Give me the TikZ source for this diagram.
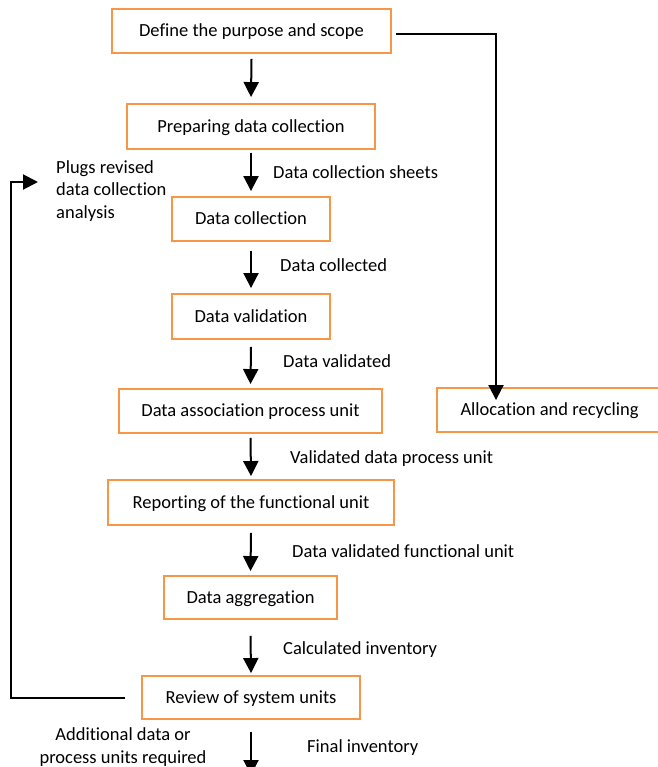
\documentclass[tikz,border=0pt]{standalone}
\usepackage{fontspec}
\setmainfont{Carlito}[Ligatures={NoCommon},RawFeature={-calt;-liga}]
\usetikzlibrary{arrows.meta}
\definecolor{boxorange}{HTML}{F79646}
\begin{document}
\begin{tikzpicture}[x=1pt,y=-1pt,
  font=\fontsize{18.5}{22.5}\selectfont,
  stepbox/.style={draw=boxorange,line width=1.9pt,inner sep=0pt,fill=white,text height=15.5pt,text depth=3.9pt},
  arr/.style={line width=2pt,-{Triangle[length=15pt,width=15pt]}},
  lbl/.style={anchor=west,inner sep=0pt,text height=15pt,text depth=3.9pt}]
\useasboundingbox (0,0) rectangle (657,767);
\node[stepbox,minimum width=279pt,minimum height=44pt] (b1) at (251.5,31) {Define the purpose and scope};
\node[stepbox,minimum width=248pt,minimum height=45pt] (b2) at (251,126.5) {Preparing data collection};
\node[stepbox,minimum width=158pt,minimum height=44pt] (b3) at (251,219) {Data collection};
\node[stepbox,minimum width=158pt,minimum height=45pt] (b4) at (251,316.5) {Data validation};
\node[stepbox,minimum width=263pt,minimum height=44pt] (b5) at (250.5,411) {Data association process unit};
\node[stepbox,minimum width=286pt,minimum height=45pt] (b6) at (251,502.5) {Reporting of the functional unit};
\node[stepbox,minimum width=173pt,minimum height=43pt] (b7) at (250.5,597.5) {Data aggregation};
\node[stepbox,minimum width=218pt,minimum height=43pt] (b8) at (251,697.5) {Review of system units};
\node[stepbox,minimum width=225pt,minimum height=44pt] (alloc) at (549.5,410) {Allocation and recycling};

\node[lbl] (l2) at (273,173) {Data collection sheets};
\node[lbl] (l3) at (280,266) {Data collected};
\node[lbl] (l4) at (283,362) {Data validated};
\node[lbl] (l5) at (290,458) {Validated data process unit};
\node[lbl] (l6) at (292,552) {Data validated functional unit};
\node[lbl] (l7) at (283,649) {Calculated inventory};
\node[lbl] (l8) at (307,747) {Final inventory};
\node[inner sep=0pt,align=left,anchor=west] (plugs) at (56,191) {Plugs revised\\data collection\\analysis};
\node[inner sep=0pt,align=center] (addl) at (123,747) {Additional data or\\process units required};

\draw[arr] ([yshift=-5pt]b1.south) -- ([yshift=6pt]b2.north);
\draw[arr] ([yshift=-3pt]b2.south) -- ([yshift=5pt]b3.north);
\draw[arr] ([yshift=-9pt]b3.south) -- ([yshift=5pt]b4.north);
\draw[arr] ([yshift=-7pt]b4.south) -- ([yshift=4pt]b5.north);
\draw[arr] ([yshift=-4pt]b5.south) -- ([yshift=3pt]b6.north);
\draw[arr] ([yshift=-7pt]b6.south) -- ([yshift=4pt]b7.north);
\draw[arr] ([yshift=-16pt]b7.south) -- ([yshift=2pt]b8.north);
\coordinate (endbot) at (251,775);
\draw[arr] ([yshift=-12pt]b8.south) -- (endbot);

\draw[arr] ([xshift=4pt,yshift=-3pt]b1.east) -| ([xshift=-53.5pt,yshift=-13pt]alloc.north);
\coordinate (fbk) at (11,182);
\draw[arr] ([xshift=-16pt]b8.west) -| (fbk) -- ([xshift=-18pt]plugs.west |- fbk);
\end{tikzpicture}
\end{document}
